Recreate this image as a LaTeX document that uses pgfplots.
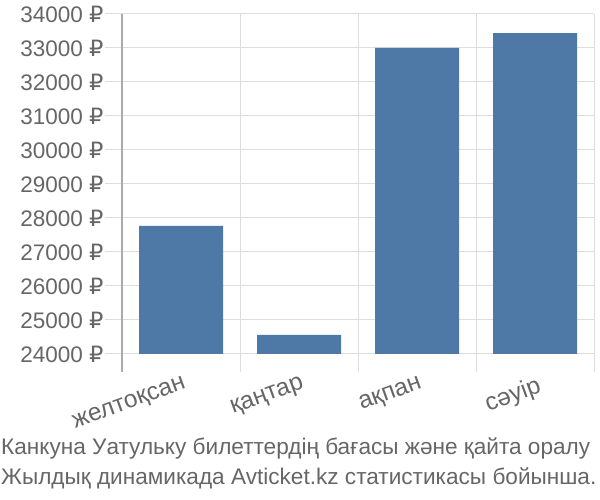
\documentclass[border=0pt]{standalone}
\usepackage{pgfplots}
\pgfplotsset{compat=1.18}
\usepackage{fontspec}
\setmainfont{Liberation Sans}
\newfontfamily\rub{DejaVu Sans}
\definecolor{barblue}{HTML}{4E79A7}
\definecolor{txt}{HTML}{666666}
\definecolor{gridc}{HTML}{DDDDDD}
\definecolor{axc}{HTML}{AAAAAA}
\begin{document}
\begin{tikzpicture}[x=1pt,y=1pt]
\path[use as bounding box] (0,0) rectangle (600,500);
\begin{axis}[
  at={(122pt,146pt)}, anchor=south west,
  scale only axis, width=472pt, height=340pt,
  xmin=-0.5, xmax=3.5, ymin=24000, ymax=34000,
  ytick={24000,25000,...,34000},
  scaled y ticks=false,
  yticklabel={\pgfmathprintnumber[fixed,1000 sep=]{\tick}~{\rub ₽}},
  /pgf/number format/assume math mode=true,
  xtick={0,1,2,3},
  xticklabels={желтоқсан,қаңтар,ақпан,сәуір},
  minor xtick={-0.5,0.5,1.5,2.5,3.5},
  xminorgrids, ymajorgrids,
  grid style={gridc, line width=1pt},
  minor grid style={gridc, line width=1pt},
  major x tick style={draw=none},
  minor x tick style={gridc, line width=1pt},
  major y tick style={gridc, line width=1pt},
  tick align=outside,
  major tick length=17pt, minor tick length=18pt,
  axis line style={draw=none},
  axis x line*=bottom, axis y line*=left,
  ticklabel style={font=\fontsize{22.5}{26}\selectfont, text=txt},
  yticklabel style={xshift=2pt},
  xticklabel style={font=\fontsize{24.5}{28}\selectfont, rotate=20, anchor=north east, xshift=3pt, yshift=-1pt},
  ybar, bar width=84/118,
  bar shift=0pt,
  clip=false,
]
\addplot[fill=barblue, draw=none] coordinates {(0,27770) (1,24560) (2,33000) (3,33440)};
\draw[axc, line width=1.2pt] (axis cs:-0.5,34000) -- ([yshift=-18pt]axis cs:-0.5,24000);
\end{axis}
\node[anchor=base west, text=txt, font=\fontsize{22.6}{26}\selectfont, inner sep=0pt] at (1,45) {Канкуна Уатульку билеттердің бағасы және қайта оралу};
\node[anchor=base west, text=txt, font=\fontsize{22.6}{26}\selectfont, inner sep=0pt] at (1,15) {Жылдық динамикада Avticket.kz статистикасы бойынша.};
\end{tikzpicture}
\end{document}
